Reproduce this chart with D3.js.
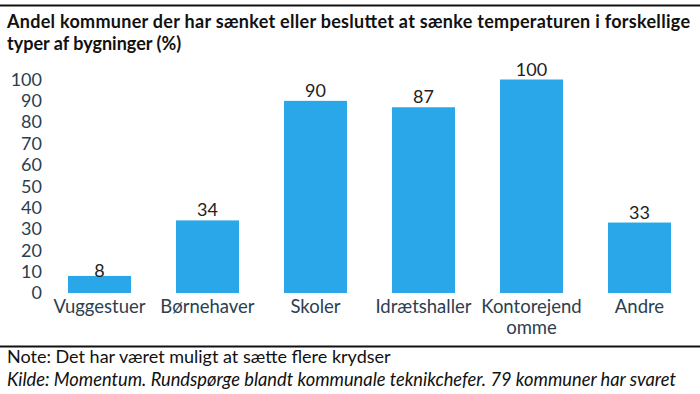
<!DOCTYPE html>
<html>
<head>
<meta charset="utf-8">
<script src="https://cdn.jsdelivr.net/npm/d3@7"></script>
<style>
  body { margin: 0; background: #fff; }
  svg { display: block; font-family: Lato, sans-serif; }
</style>
</head>
<body>
<div id="chart"></div>
<script>
// data
const categories = ['Vuggestuer', 'Børnehaver', 'Skoler', 'Idrætshaller', 'Kontorejendomme', 'Andre'];
const tickLines = [['Vuggestuer'], ['Børnehaver'], ['Skoler'], ['Idrætshaller'], ['Kontorejend', 'omme'], ['Andre']];
const values = [8, 34, 90, 87, 100, 33];
const yTicks = [0, 10, 20, 30, 40, 50, 60, 70, 80, 90, 100];
const titleLines = [
  'Andel kommuner der har sænket eller besluttet at sænke temperaturen i forskellige',
  'typer af bygninger (%)'
];
const note = 'Note: Det har været muligt at sætte flere krydser';
const source = 'Kilde: Momentum. Rundspørge blandt kommunale teknikchefer. 79 kommuner har svaret';

const width = 700, height = 394;
const svg = d3.select('#chart').append('svg')
  .attr('width', width)
  .attr('height', height);

// top rule
svg.append('line')
  .attr('x1', 0).attr('x2', width)
  .attr('y1', 5.5).attr('y2', 5.5)
  .attr('stroke', '#111').attr('stroke-width', 2);

const title = svg.append('g').selectAll('text')
  .data(titleLines)
  .join('text')
  .attr('x', 7)
  .attr('y', (d, i) => 28 + i * 22)
  .attr('font-size', '18px')
  .attr('font-weight', 'bold')
  .attr('fill', '#111')
  .text(d => d);
// first line runs to about x=690 in the reference
title.filter((d, i) => i === 0)
  .attr('textLength', 683)
  .attr('lengthAdjust', 'spacing');

const y = d3.scaleLinear().domain([0, 100]).range([293, 79.5]);
const x = d3.scaleBand()
  .domain(categories)
  .range([45.5, 693.5])
  .paddingInner(0.4167)
  .paddingOuter(0.2083);

// y axis, labels only
const yAxis = svg.append('g')
  .attr('transform', 'translate(45,0)')
  .call(d3.axisLeft(y).tickValues(yTicks).tickSize(0).tickPadding(3));
yAxis.select('.domain').remove();
yAxis.selectAll('text')
  .attr('font-family', 'Lato, sans-serif')
  .attr('font-size', '18px')
  .attr('fill', '#2c3e50');

// bars
svg.append('g').selectAll('rect')
  .data(values)
  .join('rect')
  .attr('x', (d, i) => x(categories[i]))
  .attr('width', x.bandwidth())
  .attr('y', d => y(d))
  .attr('height', d => y(0) - y(d))
  .attr('fill', '#29a7e9');

// value labels (short bars get the label pulled down onto the bar top)
svg.append('g').selectAll('text')
  .data(values)
  .join('text')
  .attr('x', (d, i) => x(categories[i]) + x.bandwidth() / 2)
  .attr('y', d => d < 10 ? y(d) + 1 : y(d) - 4)
  .attr('text-anchor', 'middle')
  .attr('font-size', '18px')
  .attr('fill', '#222')
  .text(d => d);

// category labels
const xl = svg.append('g').selectAll('text')
  .data(tickLines)
  .join('text')
  .attr('x', (d, i) => x(categories[i]) + x.bandwidth() / 2)
  .attr('y', 313)
  .attr('text-anchor', 'middle')
  .attr('font-size', '18.5px')
  .attr('fill', '#2c3e50');
xl.selectAll('tspan')
  .data(d => d)
  .join('tspan')
  .attr('x', function() { return d3.select(this.parentNode).attr('x'); })
  .attr('dy', (d, i) => i === 0 ? 0 : 21)
  .text(d => d);

// bottom rule + notes
svg.append('line')
  .attr('x1', 0).attr('x2', width)
  .attr('y1', 346.5).attr('y2', 346.5)
  .attr('stroke', '#111').attr('stroke-width', 2);

svg.append('text')
  .attr('x', 7).attr('y', 363)
  .attr('font-size', '18px')
  .attr('fill', '#111')
  .text(note);

svg.append('text')
  .attr('x', 7).attr('y', 386)
  .attr('font-size', '18.3px')
  .attr('font-style', 'italic')
  .attr('fill', '#111')
  .text(source);
</script>
</body>
</html>
